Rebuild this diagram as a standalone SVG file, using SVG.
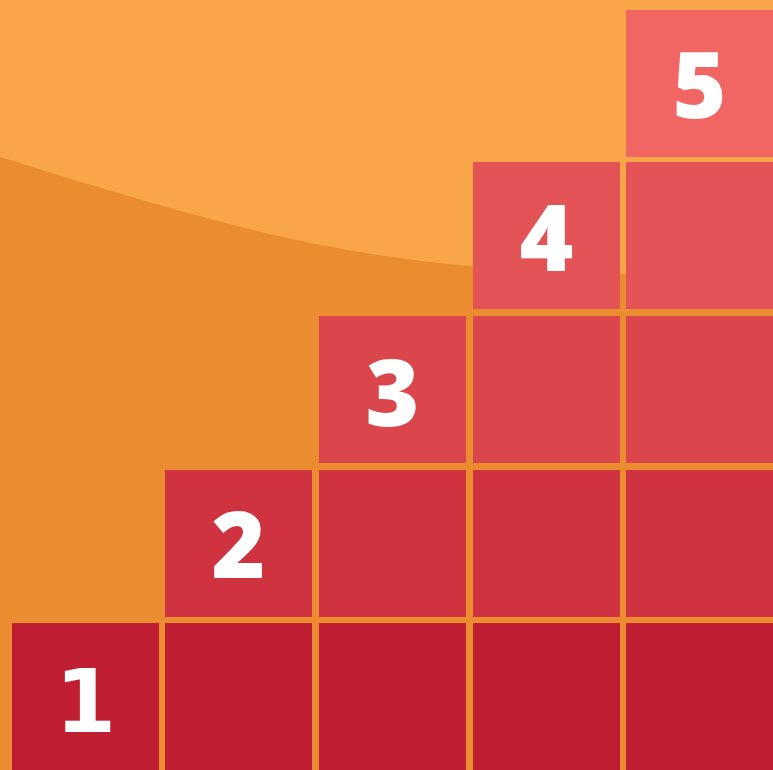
<svg xmlns="http://www.w3.org/2000/svg" width="773" height="770" viewBox="0 0 773 770">
<style>
.r1{fill:#C01F33}.r2{fill:#CE333F}.r3{fill:#DA464C}.r4{fill:#E45457}.r5{fill:#F16663}
.n{fill:#FFFFFF;font-family:"Open Sans","Noto Sans",sans-serif;font-weight:800;font-size:92px;text-anchor:middle}
.n1{font-family:"DejaVu Sans",sans-serif;font-weight:bold;font-size:88px}
</style>
<rect width="773" height="770" fill="#EA8C2F"/>
<path d="M0,0 H773 V276 L620,274 C370,269 250,234.5 0,157 Z" fill="#F9A64A"/>
<g id="row1">
<g id="tile1"><rect class="r1" x="12" y="623" width="147" height="147"/><text class="n n1" x="85.5" y="732">1</text></g>
<rect class="r1" x="165" y="623" width="147" height="147"/>
<rect class="r1" x="319" y="623" width="147" height="147"/>
<rect class="r1" x="473" y="623" width="147" height="147"/>
<rect class="r1" x="626" y="623" width="147" height="147"/>
</g>
<g id="row2">
<g id="tile2"><rect class="r2" x="165" y="470" width="147" height="147"/><text class="n" x="238.5" y="578">2</text></g>
<rect class="r2" x="319" y="470" width="147" height="147"/>
<rect class="r2" x="473" y="470" width="147" height="147"/>
<rect class="r2" x="626" y="470" width="147" height="147"/>
</g>
<g id="row3">
<g id="tile3"><rect class="r3" x="319" y="316" width="147" height="147"/><text class="n" x="392.5" y="426">3</text></g>
<rect class="r3" x="473" y="316" width="147" height="147"/>
<rect class="r3" x="626" y="316" width="147" height="147"/>
</g>
<g id="row4">
<g id="tile4"><rect class="r4" x="473" y="162" width="147" height="147"/><text class="n" x="546.5" y="271">4</text></g>
<rect class="r4" x="626" y="162" width="147" height="147"/>
</g>
<g id="row5">
<g id="tile5"><rect class="r5" x="626" y="10" width="147" height="147"/><text class="n" x="699.5" y="118">5</text></g>
</g>
</svg>
